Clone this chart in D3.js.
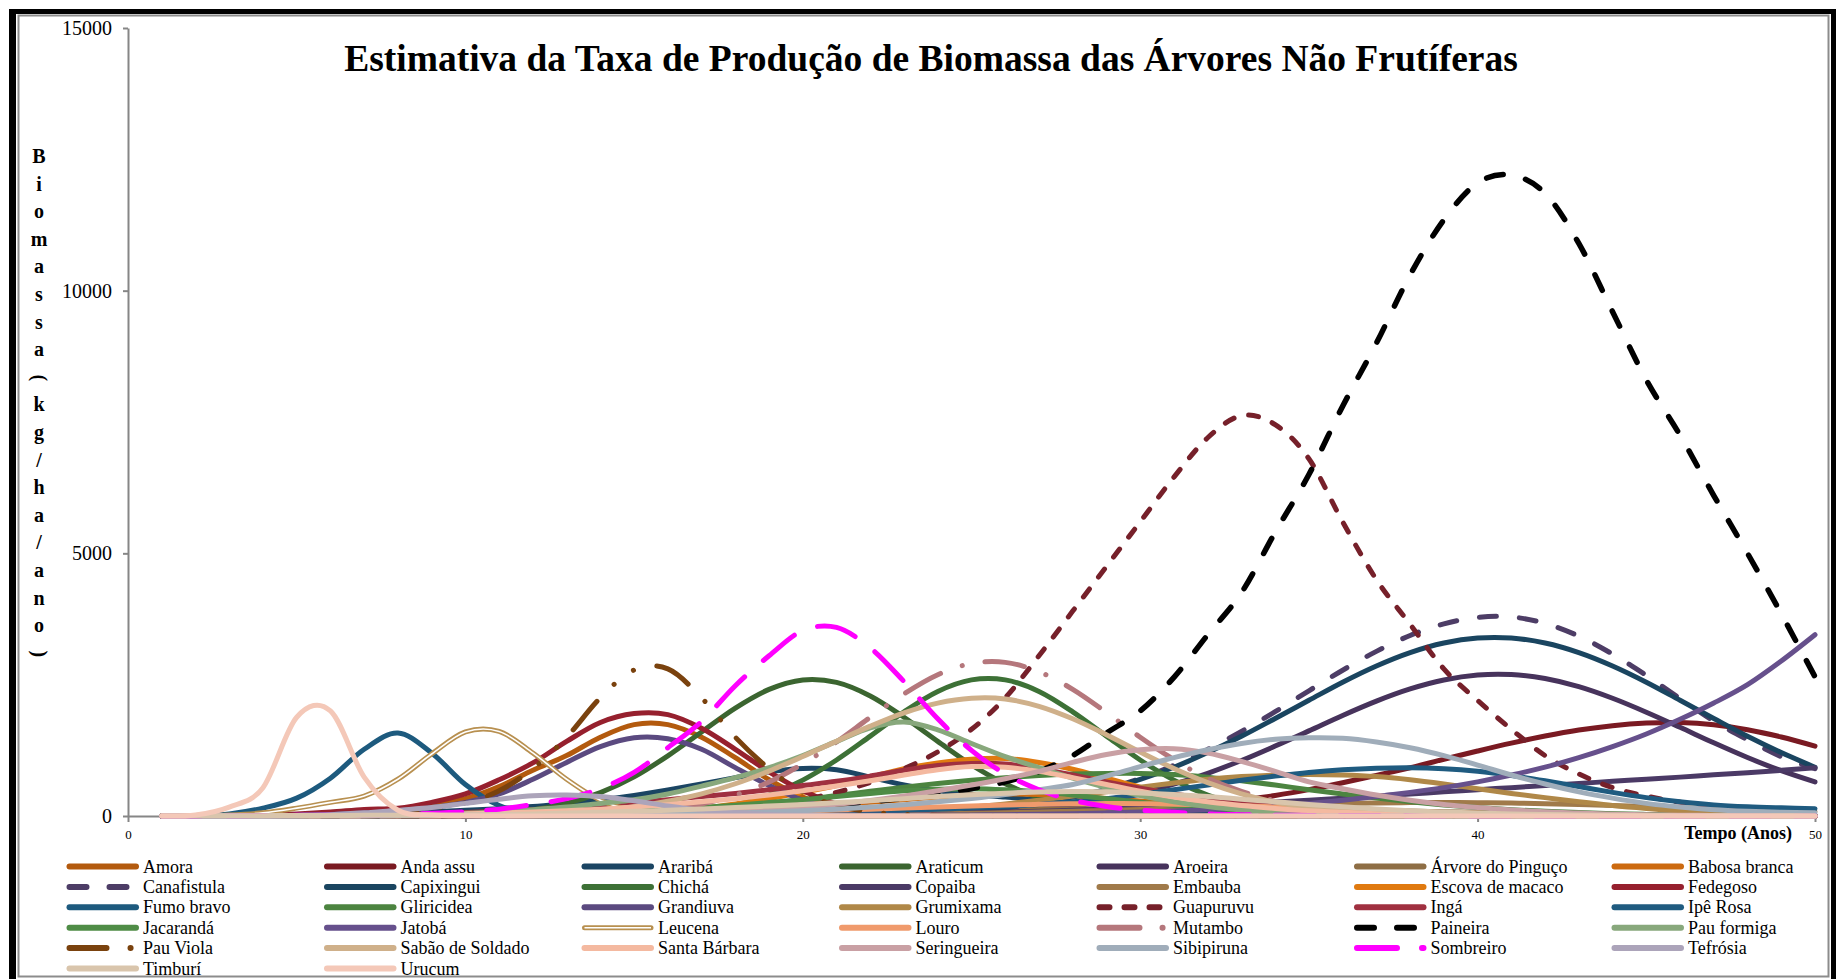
<!DOCTYPE html>
<html><head><meta charset="utf-8">
<script src="https://cdn.jsdelivr.net/npm/d3@7"></script>
<style>body{margin:0;background:#fff}svg{display:block}</style>
</head><body><svg id="c" width="1836" height="979"></svg>
<script>
const years = [1,2,3,4,5,6,7,8,9,10,11,12,13,14,15,16,17,18,19,20,21,22,23,24,25,26,27,28,29,30,31,32,33,34,35,36,37,38,39,40,41,42,43,44,45,46,47,48,49,50];

const amora = [0,0,5,12,25,45,75,120,200,330, 560,870,1150,1500,1740,1740,1500,1110,690,360, 160,60,20,6,0,0,0,0,0,0, 0,0,0,0,0,0,0,0,0,0, 0,0,0,0,0,0,0,0,0,0];
const andaAssu = [0,0,0,0,0,0,0,0,0,0, 0,0,0,0,0,0,0,0,1,2, 4,6,9,12,17,26,40,57,84,121, 165,226,304,391,502,632,774,918,1080,1237, 1387,1522,1636,1719,1768,1780,1739,1643,1504,1330];
const arariba = [0,0,5,10,20,30,45,60,80,110, 140,180,240,305,390,495,610,730,840,905, 880,740,590,480,410,360,310,260,210,160, 120,90,65,45,30,20,12,8,5,3, 2,1,0,0,0,0,0,0,0,0];
const araticum = [0,0,0,0,0,0,2,5,10,23, 55,120,240,445,745,1145,1600,2055,2410,2590, 2543,2285,1880,1420,975,615,350,185,88,40, 16,6,2,0,0,0,0,0,0,0, 0,0,0,0,0,0,0,0,0,0];
const aroeira = [0,0,0,0,0,0,0,0,0,0, 0,0,0,0,0,2,3,5,8,11, 15,20,25,32,52,85,135,205,303,435, 605,813,1056,1331,1620,1914,2187,2419,2589,2684, 2693,2616,2462,2241,1976,1688,1393,1113,862,648];
const arvorePinguco = [0,0,0,0,0,0,1,2,3,4, 5,6,7,8,10,14,19,25,32,40, 50,60,72,85,98,110,122,132,140,146, 150,150,147,141,132,121,108,95,82,70, 58,48,39,31,25,19,15,11,8,6];
const babosaBranca = [0,0,0,0,0,2,4,6,8,10, 14,20,28,38,50,65,85,110,140,175, 215,260,310,360,400,420,410,380,335,285, 235,190,150,115,85,62,44,30,20,13, 8,5,3,2,1,1,1,1,1,1];
const canafistula = [0,0,0,0,0,0,0,0,0,0, 0,0,0,1,1,2,3,4,5,7, 12,22,38,64,102,158,245,361,514,713, 966,1268,1611,1985,2383,2775,3134,3436,3658,3780, 3789,3666,3424,3082,2676,2237,1806,1450,1130,900];
const capixingui = [0,0,0,0,0,0,0,0,0,0, 0,0,0,1,1,2,3,4,6,8, 15,25,42,67,107,165,247,360,508,697, 928,1207,1518,1857,2202,2546,2855,3110,3292,3388, 3388,3292,3110,2855,2546,2202,1857,1518,1207,928];
const chicha = [0,0,0,0,0,0,0,0,0,0, 0,0,0,2,19,46,104,214,398,683, 1066,1520,1983,2371,2591,2591,2371,1983,1520,1066, 683,398,214,104,46,19,7,2,0,0, 0,0,0,0,0,0,0,0,0,0];
const copaiba = [0,0,0,0,0,1,2,3,4,5, 6,7,8,9,10,11,12,14,17,20, 25,32,40,50,60,75,90,110,130,155, 180,205,235,265,300,340,380,420,460,500, 540,580,620,660,700,740,785,825,870,920];
const embauba = [0,0,0,0,0,1,2,3,4,5, 6,7,8,9,10,11,12,13,14,15, 20,25,32,40,50,62,75,90,107,125, 145,165,185,205,222,237,248,255,257,254, 246,234,218,200,180,160,140,120,102,86];
const escovaMacaco = [0,0,0,0,0,0,1,2,4,6, 10,14,20,35,60,100,150,230,330,450, 580,740,900,1010,1080,1095,1020,890,720,550, 400,280,190,120,75,45,25,15,8,4, 2,1,0,0,0,0,0,0,0,0];
const fedegoso = [0,0,10,20,40,75,125,150,260,420, 690,1010,1420,1780,1950,1930,1670,1270,840,480, 230,95,35,12,4,0,0,0,0,0, 0,0,0,0,0,0,0,0,0,0, 0,0,0,0,0,0,0,0,0,0];
const fumoBravo = [0,10,40,150,340,720,1270,1580,1200,600, 200,50,10,0,0,0,0,0,0,0, 0,0,0,0,0,0,0,0,0,0, 0,0,0,0,0,0,0,0,0,0, 0,0,0,0,0,0,0,0,0,0];
const gliricidea = [0,0,0,0,2,4,6,8,10,15, 22,30,40,50,60,90,130,180,240,310, 390,470,550,620,680,730,770,800,810,810, 790,740,670,590,500,420,340,270,210,160, 120,90,65,45,30,20,12,8,5,3];
const grandiuva = [0,0,0,5,15,30,55,95,160,260, 420,700,1020,1320,1490,1470,1270,920,580,300, 130,50,15,5,0,0,0,0,0,0, 0,0,0,0,0,0,0,0,0,0, 0,0,0,0,0,0,0,0,0,0];
const grumixama = [0,0,0,0,1,2,3,4,5,6, 7,8,9,10,12,14,17,20,25,30, 45,65,90,125,170,230,300,380,460,550, 630,700,750,780,790,780,750,690,610,520, 430,350,270,200,145,100,70,45,30,20];
const guapuruvu = [0,0,2,4,6,9,12,16,21,27, 34,42,52,64,78,95,120,150,220,310, 450,640,900,1220,1650,2250,3050,3900,4750,5600, 6450,7200,7620,7450,6800,5600,4500,3650,2800,2200, 1650,1150,800,540,380,260,170,110,70,40];
const inga = [0,0,0,2,5,10,18,30,45,65, 90,120,160,210,260,310,370,430,500,580, 660,760,870,960,1000,990,900,780,650,530, 420,330,260,200,150,110,80,55,35,20, 12,8,5,3,2,1,0,0,0,0];
const ipeRosa = [0,0,0,1,2,3,4,6,8,10, 14,18,22,27,32,38,44,50,55,60, 75,90,110,130,155,185,220,270,330,410, 500,590,680,760,830,880,910,920,900,850, 770,670,560,450,350,270,210,175,155,140];
const jacaranda = [0,0,0,0,0,2,5,10,15,20, 25,30,45,65,90,120,160,205,255,310, 370,430,480,510,520,500,460,400,330,260, 200,150,105,70,45,30,18,10,5,3, 2,1,0,0,0,0,0,0,0,0];
const jatoba = [0,0,0,0,0,0,0,0,0,0, 2,3,4,5,6,7,8,9,10,11, 12,14,16,18,20,25,35,45,60,75, 95,120,150,190,240,300,370,450,540,650, 780,930,1110,1320,1560,1840,2150,2500,2950,3450];
const leucena = [0,5,20,60,150,260,380,700,1180,1600, 1610,1200,700,300,100,30,5,0,0,0, 0,0,0,0,0,0,0,0,0,0, 0,0,0,0,0,0,0,0,0,0, 0,0,0,0,0,0,0,0,0,0];
const louro = [0,0,0,0,0,1,2,4,6,10, 14,18,23,29,36,45,55,67,80,95, 112,130,150,170,190,208,222,232,236,234, 226,212,194,172,150,127,105,85,67,52, 40,30,22,16,11,8,5,4,3,2];
const mutambo = [0,0,0,0,0,0,0,0,0,0, 0,5,12,28,60,120,227,397,647,994, 1411,1879,2326,2690,2903,2924,2747,2411,1970,1500, 1073,715,470,290,170,95,50,25,12,5, 2,1,0,0,0,0,0,0,0,0];
const paineira = [0,0,1,2,3,4,6,8,10,13, 17,21,26,32,40,55,75,100,130,170, 215,270,340,420,520,650,850,1150,1580,2000, 2640,3450,4250,5400,6500,7800,9000,10300,11350,12050, 12200,11850,10900,9600,8300,7250,6100,5000,3850,2650];
const pauFormiga = [0,0,0,0,5,10,15,22,35,50, 80,120,170,240,310,420,570,730,920,1150, 1420,1680,1790,1640,1380,1130,920,720,540,390, 270,180,115,70,42,25,14,8,4,2, 0,0,0,0,0,0,0,0,0,0];
const pauViola = [0,0,0,0,0,10,30,70,150,250, 480,900,1500,2250,2780,2800,2250,1500,900,450, 200,80,30,10,0,0,0,0,0,0, 0,0,0,0,0,0,0,0,0,0, 0,0,0,0,0,0,0,0,0,0];
const sabaoSoldado = [0,0,0,0,0,1,2,3,5,8, 17,33,58,104,175,281,422,614,855,1132, 1424,1710,1964,2149,2241,2227,2088,1850,1546,1217, 904,635,421,264,156,86,45,22,10,5, 2,1,0,0,0,0,0,0,0,0];
const santaBarbara = [0,0,0,2,5,10,15,22,30,40, 55,75,100,130,170,215,270,330,400,480, 570,670,780,880,940,930,850,730,600,470, 360,270,200,145,100,70,45,30,20,10, 6,4,2,1,0,0,0,0,0,0];
const seringueira = [0,0,0,0,2,4,6,9,12,15, 18,21,24,27,30,45,65,90,125,170, 225,295,380,480,590,710,850,1020,1170,1260, 1280,1200,1040,850,650,520,400,300,220,160, 115,80,55,35,25,15,10,5,3,2];
const sibipiruna = [0,0,0,0,2,4,6,8,10,12, 14,16,18,19,20,30,40,55,75,100, 130,170,215,270,335,410,500,600,760,940, 1110,1260,1380,1460,1490,1480,1410,1300,1150,970, 780,610,460,340,240,170,120,90,70,60];
const sombreiro = [0,2,5,8,12,17,23,30,50,80, 130,220,330,520,830,1300,1800,2480,3050,3530, 3590,3200,2560,1850,1250,800,500,300,180,110, 70,40,25,15,10,6,4,2,0,0, 0,0,0,0,0,0,0,0,0,0];
const tefrosia = [0,0,0,0,10,25,60,110,160,240, 320,385,400,370,290,190,110,60,30,15, 8,4,2,1,0,0,0,0,0,0, 0,0,0,0,0,0,0,0,0,0, 0,0,0,0,0,0,0,0,0,0];
const timburi = [5,5,6,7,8,10,12,14,17,20, 30,40,55,70,90,110,135,160,190,220, 255,290,330,370,405,435,455,465,460,440, 410,370,320,270,220,175,135,100,75,55, 40,28,20,14,10,7,5,4,3,2];
const urucum = [0,20,170,540,1880,2000,740,110,20,5, 0,0,0,0,0,0,0,0,0,0, 0,0,0,0,0,0,0,0,0,0, 0,0,0,0,0,0,0,0,0,0, 0,0,0,0,0,0,0,0,0,0];

const seriesNames = ["Amora","Anda assu","Araribá","Araticum","Aroeira","Árvore do Pinguço","Babosa branca",
  "Canafistula","Capixingui","Chichá","Copaiba","Embauba","Escova de macaco","Fedegoso",
  "Fumo bravo","Gliricidea","Grandiuva","Grumixama","Guapuruvu","Ingá","Ipê Rosa",
  "Jacarandá","Jatobá","Leucena","Louro","Mutambo","Paineira","Pau formiga",
  "Pau Viola","Sabão de Soldado","Santa Bárbara","Seringueira","Sibipiruna","Sombreiro","Tefrósia",
  "Timburí","Urucum"];
const seriesValues = [amora,andaAssu,arariba,araticum,aroeira,arvorePinguco,babosaBranca,
  canafistula,capixingui,chicha,copaiba,embauba,escovaMacaco,fedegoso,
  fumoBravo,gliricidea,grandiuva,grumixama,guapuruvu,inga,ipeRosa,
  jacaranda,jatoba,leucena,louro,mutambo,paineira,pauFormiga,
  pauViola,sabaoSoldado,santaBarbara,seringueira,sibipiruna,sombreiro,tefrosia,
  timburi,urucum];
const xTickValues = [0,10,20,30,40,50];
const yTickValues = [0,5000,10000,15000];
const chartTitle = "Estimativa da Taxa de Produção de Biomassa das Árvores Não Frutíferas";
const yTitleText = "Biomassa(kg/ha/ano)";
const xTitleText = "Tempo (Anos)";

// styles (kept separate from the data)
const seriesColors = ["#B35A0E","#7A1A22","#1B4563","#3B6530","#47335C","#8E6E45","#CC6A10",
  "#4D3D66","#1A4560","#3D7136","#4B3A66","#A07A4A","#E07A10","#96202E",
  "#1D5A7E","#4C8440","#5B4A80","#B08848","#76202A","#A03040","#1F5B80",
  "#4F8C46","#66508C","#B89050","#F09A6C","#B5777C","#000000","#88A87C",
  "#7A420E","#CFB08A","#F4B9A0","#C9A0A4","#A0ADBA","#FF00FF","#ACA4BA",
  "#D9C5AC","#F4C8B8"];
const dashFor = {
  "Canafistula":"17,23", "Paineira":"17,23", "Guapuruvu":"10,15",
  "Mutambo":"40,23,0.1,23", "Pau Viola":"37,24,0.1,24,0.1,24", "Sombreiro":"40,25"
};
const FONT = "'Liberation Serif','Times New Roman',Times,serif";

const svg = d3.select("#c");
// frame
svg.append("rect").attr("x",0).attr("y",0).attr("width",1836).attr("height",979).attr("fill","#fff");
svg.append("rect").attr("x",9).attr("y",9).attr("width",1827).attr("height",970).attr("fill","#000");
svg.append("rect").attr("x",16).attr("y",14).attr("width",1815).attr("height",965).attr("fill","#fff");
svg.append("rect").attr("x",18.5).attr("y",15.5).attr("width",1810).attr("height",961).attr("fill","none").attr("stroke","#8c8c8c").attr("stroke-width",2);

const x = d3.scaleLinear().domain([0,50]).range([128,1815]);
const y = d3.scaleLinear().domain([0,15000]).range([816,28]);

// axes
const gy = svg.append("g").attr("transform","translate(128,0)")
  .call(d3.axisLeft(y).tickValues(yTickValues).tickSize(5).tickSizeOuter(0).tickPadding(11).tickFormat(d3.format("d")));
gy.select(".domain").attr("stroke","#868686").attr("stroke-width",2);
gy.selectAll(".tick line").attr("stroke","#868686").attr("stroke-width",2);
gy.selectAll(".tick text").attr("font-family",FONT).attr("font-size",20).attr("fill","#000");

const gx = svg.append("g").attr("transform","translate(0,816)")
  .call(d3.axisBottom(x).tickValues(xTickValues).tickSize(6).tickSizeOuter(0).tickPadding(8));
gx.select(".domain").attr("stroke","#868686").attr("stroke-width",2);
gx.selectAll(".tick line").attr("stroke","#868686").attr("stroke-width",2);
gx.selectAll(".tick text").attr("font-family",FONT).attr("font-size",13).attr("fill","#000");

// lines
const line = d3.line().x((d,i)=>x(years[i])).y(d=>y(d)).curve(d3.curveCatmullRom.alpha(0));
const plot = svg.append("g");
seriesNames.forEach((name,k)=>{
  const p = plot.append("path").datum(seriesValues[k]).attr("d",line)
    .attr("fill","none").attr("stroke",seriesColors[k])
    .attr("stroke-width", name==="Paineira"?5.5:5)
    .attr("stroke-linecap","round").attr("stroke-linejoin","round");
  if (dashFor[name]) p.attr("stroke-dasharray",dashFor[name]);
  if (name==="Leucena") {
    p.attr("stroke-width",5);
    plot.append("path").datum(seriesValues[k]).attr("d",line)
      .attr("fill","none").attr("stroke","#fff").attr("stroke-width",1.6);
  }
});

// title
svg.append("text").attr("x",931).attr("y",71).attr("text-anchor","middle")
  .attr("font-family",FONT).attr("font-weight","bold").attr("font-size",37.5).text(chartTitle);

// y title stacked
Array.from(yTitleText).forEach((ch,i)=>{
  const yy = 163 + i*27.6;
  const t = svg.append("text").attr("x",39).attr("y",yy).attr("text-anchor","middle")
    .attr("font-family",FONT).attr("font-weight","bold").attr("font-size",20).text(ch);
  if (ch==="(" || ch===")") t.attr("transform",`rotate(90,39,${yy-6})`);
});

// x title
svg.append("text").attr("x",1792).attr("y",839).attr("text-anchor","end")
  .attr("font-family",FONT).attr("font-weight","bold").attr("font-size",18).text(xTitleText);

// legend
const lg = svg.append("g");
seriesNames.forEach((name,k)=>{
  const col = k%7, row = Math.floor(k/7);
  const x0 = 67 + col*257.5, yc = 866.5 + row*20.4;
  const s = lg.append("line").attr("x1",x0+2.5).attr("x2",x0+69).attr("y1",yc).attr("y2",yc)
    .attr("stroke",seriesColors[k]).attr("stroke-width",6).attr("stroke-linecap","round");
  if (dashFor[name]) s.attr("stroke-dasharray",dashFor[name]);
  if (name==="Leucena") {
    s.attr("stroke-width",5);
    lg.append("line").attr("x1",x0+2.5).attr("x2",x0+69).attr("y1",yc).attr("y2",yc)
      .attr("stroke","#fff").attr("stroke-width",1.6);
  }
  lg.append("text").attr("x",x0+76).attr("y",yc+6).attr("font-family",FONT).attr("font-size",18)
    .attr("fill","#000").text(name);
});
</script></body></html>
